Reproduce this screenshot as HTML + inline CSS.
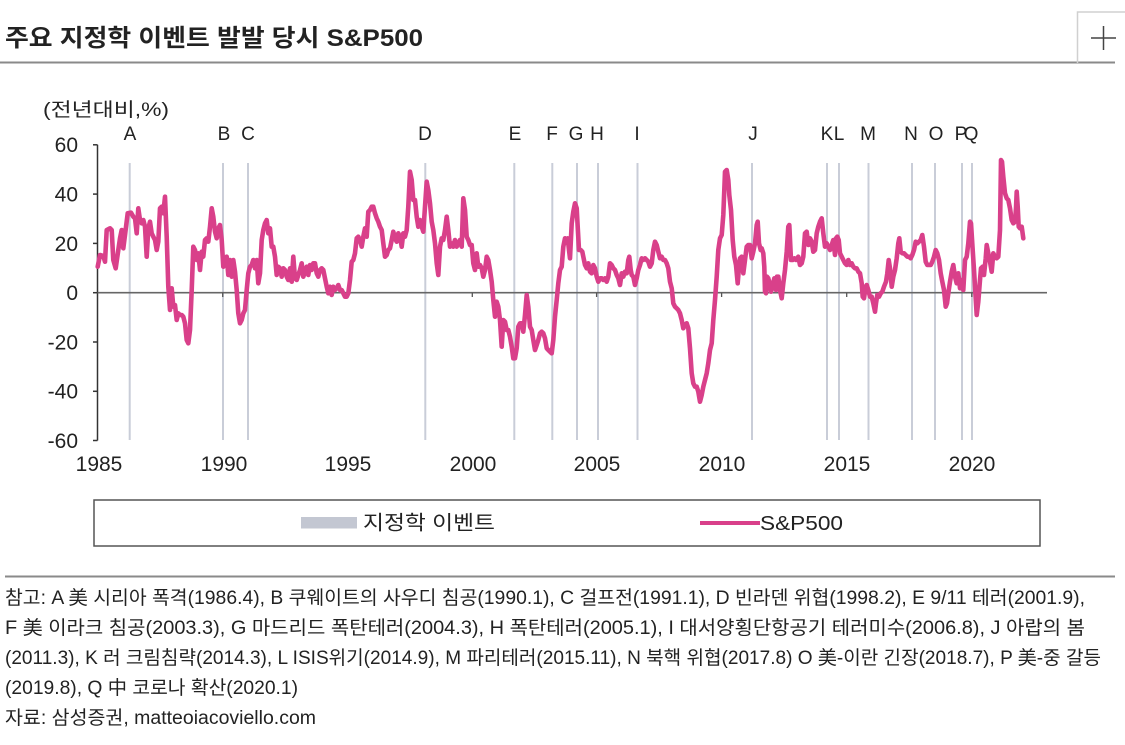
<!DOCTYPE html>
<html><head><meta charset="utf-8">
<style>
html,body{margin:0;padding:0;background:#fff;}
svg{display:block;}
text{font-family:"Liberation Sans","Noto Sans CJK KR",sans-serif;fill:#222;}
</style></head>
<body>
<svg width="1125" height="745" viewBox="0 0 1125 745" xmlns="http://www.w3.org/2000/svg">
<rect width="1125" height="745" fill="#fff"/>
<!-- Title -->
<text x="5" y="46" font-size="24" font-weight="bold" textLength="418" lengthAdjust="spacingAndGlyphs">주요 지정학 이벤트 발발 당시 S&amp;P500</text>
<line x1="0" y1="62.5" x2="1115" y2="62.5" stroke="#8a8a8a" stroke-width="2"/>
<!-- plus box -->
<path d="M1077.5 63 V12 H1125" fill="none" stroke="#d0d0d0" stroke-width="1.5"/>
<line x1="1091" y1="38" x2="1116" y2="38" stroke="#444" stroke-width="1.5"/>
<line x1="1103.5" y1="26" x2="1103.5" y2="50" stroke="#444" stroke-width="1.5"/>

<!-- unit label -->
<text x="43" y="116" font-size="19" textLength="126" lengthAdjust="spacingAndGlyphs">(전년대비,%)</text>

<!-- event lines -->
<g stroke="#c9cdd8" stroke-width="2">
<line x1="129.7" y1="163" x2="129.7" y2="440"/>
<line x1="223" y1="163" x2="223" y2="440"/>
<line x1="248" y1="163" x2="248" y2="440"/>
<line x1="425.3" y1="163" x2="425.3" y2="440"/>
<line x1="514.3" y1="163" x2="514.3" y2="440"/>
<line x1="552.3" y1="163" x2="552.3" y2="440"/>
<line x1="577" y1="163" x2="577" y2="440"/>
<line x1="598" y1="163" x2="598" y2="440"/>
<line x1="637.5" y1="163" x2="637.5" y2="440"/>
<line x1="752" y1="163" x2="752" y2="440"/>
<line x1="827" y1="163" x2="827" y2="440"/>
<line x1="839" y1="163" x2="839" y2="440"/>
<line x1="868.5" y1="163" x2="868.5" y2="440"/>
<line x1="912" y1="163" x2="912" y2="440"/>
<line x1="935" y1="163" x2="935" y2="440"/>
<line x1="962" y1="163" x2="962" y2="440"/>
<line x1="972" y1="163" x2="972" y2="440"/>
</g>

<!-- event labels -->
<g font-size="19" text-anchor="middle">
<text x="130" y="140">A</text>
<text x="224" y="140">B</text>
<text x="248" y="140">C</text>
<text x="425" y="140">D</text>
<text x="515" y="140">E</text>
<text x="552" y="140">F</text>
<text x="576" y="140">G</text>
<text x="597" y="140">H</text>
<text x="637" y="140">I</text>
<text x="753" y="140">J</text>
<text x="827" y="140">K</text>
<text x="839" y="140">L</text>
<text x="868" y="140">M</text>
<text x="911" y="140">N</text>
<text x="936" y="140">O</text>
<text x="961" y="140">P</text>
<text x="971" y="140">Q</text>
</g>

<!-- axes -->
<line x1="97.5" y1="144.8" x2="97.5" y2="440.5" stroke="#333" stroke-width="1.5"/>
<g stroke="#333" stroke-width="1.5">
<line x1="93" y1="144.8" x2="97.5" y2="144.8"/>
<line x1="93" y1="194.1" x2="97.5" y2="194.1"/>
<line x1="93" y1="243.4" x2="97.5" y2="243.4"/>
<line x1="93" y1="292.7" x2="97.5" y2="292.7"/>
<line x1="93" y1="342" x2="97.5" y2="342"/>
<line x1="93" y1="391.3" x2="97.5" y2="391.3"/>
<line x1="93" y1="440.5" x2="97.5" y2="440.5"/>
</g>
<line x1="97.5" y1="292.7" x2="1047" y2="292.7" stroke="#666" stroke-width="1.6"/>
<g stroke="#555" stroke-width="1.3">
<line x1="222.7" y1="292.7" x2="222.7" y2="297"/>
<line x1="347.5" y1="292.7" x2="347.5" y2="297"/>
<line x1="472.3" y1="292.7" x2="472.3" y2="297"/>
<line x1="596.6" y1="292.7" x2="596.6" y2="297"/>
<line x1="721.6" y1="292.7" x2="721.6" y2="297"/>
<line x1="846.7" y1="292.7" x2="846.7" y2="297"/>
<line x1="971.8" y1="292.7" x2="971.8" y2="297"/>
</g>

<!-- y labels -->
<g font-size="21" text-anchor="end">
<text x="78" y="152">60</text>
<text x="78" y="201.5">40</text>
<text x="78" y="250.8">20</text>
<text x="78" y="300">0</text>
<text x="78" y="349.5">-20</text>
<text x="78" y="398.7">-40</text>
<text x="78" y="448">-60</text>
</g>
<!-- x labels -->
<g font-size="21" text-anchor="middle">
<text x="99" y="471">1985</text>
<text x="224" y="471">1990</text>
<text x="348" y="471">1995</text>
<text x="473" y="471">2000</text>
<text x="597" y="471">2005</text>
<text x="722" y="471">2010</text>
<text x="847" y="471">2015</text>
<text x="972" y="471">2020</text>
</g>

<!-- series -->
<polyline fill="none" stroke="#d9408a" stroke-width="4.6" stroke-linejoin="round" stroke-linecap="round" points="
97.7,266.7 100,255 103.3,256 105,261.7 106.7,230 110,228.3 111.7,230 113.3,260 115.7,268.3 118.3,250 120,238.3 121.7,230 123.3,248.3 125,235 127.7,213.3 131,212.7 133.3,216.7 135,218.3 136.7,233.3 138.3,208.3 140,220 141.7,223.3 143.3,220 145,226.7 146.7,256.7 148.3,228.3 150,221.7 151.7,233.3 153.3,236.7 155,240 156.7,250 158.3,241.7 160,208.3 161.7,206.7 163.3,213.3 165,196.7 166.7,236.7 168.3,286.7 170,310 171.7,288.3 173.3,306.7 175,305 176.7,320 178.3,313.3 180,315 181.7,315 183.3,316.7 185,323.3 186.7,340 188.3,343.3 190,330 191.7,290 193.3,246.7 195,250 196.7,260 198.3,253.3 200,270 201.7,251.7 203.3,256.7 205,240 206.7,238.3 208.3,241.7 210,226.7 211.7,208.3 213.3,216.7 215,231.7 216.7,238.3 218.3,228.3 220,225 221.7,240 223.3,266.7 225,260 226.7,256.7 228.3,275 230,260 231.7,276.7 233.3,260 235,271.7 236.7,290 238.3,313.3 240,323.3 241.7,320 243.3,313.3 245,310 246.7,290 248.3,273.3 250,266.7 251.7,265 253.3,260 255,268.3 256.7,260 258.3,283.3 260,273.3 261.7,240 263.3,230 265,223.3 266.7,220 268.3,233.3 270,228.3 271.7,246.7 273.3,246.7 275,256.7 276.7,275 278.3,266.7 280,268.3 281.7,276.7 283.3,268.3 285,270 286.7,276.7 288.3,280 290,268.3 291.7,281.7 293.3,256.7 295,278.3 296.7,280 298.3,275 300,270 301.7,263.3 303.3,276.7 305,271.7 306.7,266.7 308.3,275 310,265 311.7,270 313.3,263.3 315,263.3 316.7,273.3 318.3,276.7 320,270 321.7,268.3 323.3,270 325,278.3 326.7,286.7 328.3,293.3 330,286.7 331.7,295 333.3,286.7 335,290
336.7,288.3 338.3,285 340,290 341.7,290 343.3,293.3 345,296.7 346.7,296.7 348.3,293.3 350,280 351.7,261.7 353.3,260 355,253.3 356.7,238.3 358.3,236.7 360,240 361.7,246.7 363.3,236.7 365,228.3 366.7,236.7 368.3,211.7 370,210 371.7,206.7 373.3,206.7 375,213.3 376.7,218.3 378.3,221.7 380,226.7 381.7,230 383.3,243.3 385,256.7 386.7,255 388.3,250 390,248.3 391.7,240 393.3,231.7 395,238.3 396.7,241.7 398.3,233.3 400,236.7 401.7,246.7 403.3,233.3 405,236.7 406.7,230 408.3,206.7 410,171.7 411.7,180 413.3,200 415,200 416.7,216.7 418.3,226.7 420,220 421.7,226.7 423.3,231.7 425,206.7 426.7,181.7 428.3,190 430,203.3 431.7,221.7 433.3,230 435,243.3 436.7,263.3 438.3,275 440,246.7 441.7,238.3 443.3,240 445,230 446.7,216.7 448.3,230 450,246.7 451.7,243.3 453.3,246.7 455,240 456.7,246.7 458.3,243.3 460,240 461.7,246.7 463.3,198.3 465,210 466.7,236.7 468.3,240 470,245 471.7,245 473.3,263.3 475,270 476.7,253.3 478.3,266.7 480,265 481.7,268.3 483.3,276.7 485,270 486.7,256.7 488.3,260 490,270 491.7,281.7 493.3,300 495,316.7 496.7,301.7 498.3,306.7 500,320 501.7,346.7 503.3,320 505,321.7 506.7,330 508.3,330 510,336.7 511.7,346.7 513.3,358.3 515,358.3 516.7,348.3 518.3,326.7 520,323.3 521.7,323.3 523.3,331.7 525,315 526.7,295 528.3,306.7 530,326.7 531.7,330 533.3,340 535,350 536.7,345 538.3,340 540,333.3 541.7,331.7 543.3,333.3 545,338.3 546.7,348.3 548.3,350 550,351.7 551.7,353.3 553.3,340 555,316.7 556.7,300 558.3,283.3 560,270 561.7,266.7 563.3,246.7 565,238.3
566.7,240 567.7,238.3 569,250 570,258.3 571.7,223.3 573.3,211.7 575,203.3 576.7,208.3 577.7,226.7 579,250 580.7,250 582.3,251.7 583.3,256.7 585,265 586.7,268.3 588.3,263.3 590,271.7 591.7,273.3 593.3,265 595,268.3 596.7,276.7 598.3,281.7 600,278.3 601.7,278.3 603.3,280 605,278.3 606.7,281.7 608.3,276.7 610,263.3 611.7,265 613.3,268.3 615,270 616.7,275 618.3,278.3 620,285 621.7,273.3 623.3,276.7 625,271.7 626.7,273.3 628.3,260 629.3,256.7 630.7,270 631.7,275 633.3,276.7 635,285 636.7,278.3 638.3,270 640,265 641.7,258.3 643.3,260 645,258.3 646.7,260 648.3,261.7 650,266.7 651.7,263.3 653.3,250 655,241.7 656.7,245 658.3,251.7 660,258.3 661.7,256.7 663.3,260 665,260 666.7,263.3 668.3,268.3 670,281.7 671.7,288.3 673.3,303.3 675,306.7 676.7,308.3 678.3,310 680,313.3 681.7,320 683.3,328.3 685,325 686.7,323.3 688.3,328.3 690,348.3 691.7,373.3 693.3,383.3 695,386.7 696.7,386.7 698.3,391.7 700,401.7 701.7,395 703.3,386.7 705,380 706.7,373.3 708.3,363.3 710,350 711.7,343.3 713.3,320 715,300 716.7,276.7 718.3,250 720,238.3 721.7,235 723.3,215 724.3,190 725,171.7 726.7,170 728.3,180 729.3,195 731,210 732.7,240 734.3,256.7 736,265 737.7,283.3 739,266.7 740,258.3 741.7,256.7 743.3,273.3 745,260 746.7,246.7 748.3,245 750,245 751.7,258.3 753.3,251.7 755,243.3 756.7,225 757.7,221.7 759,243.3 760.7,250 761.7,248.3 763.3,253.3 764.3,266.7 765,291.7 766,293.3 767,276.7 768.3,278.3 770,285 771,291.7 772.3,286.7 774.3,278.3 776,290 777,276.7 778.3,276.7 780,290 781.7,298.3 783.3,283.3 785,270 786.7,251.7 788.3,226.7 789.3,225 791,260 792.7,260 794.3,258.3 796,260 798.3,256.7
800,265 801.7,263.3 803.3,256.7 805,233.3 806.7,231.7 808.3,245 810,238.3 811.7,241.7 813.3,251.7 815,250 816.7,233.3 818.3,226.7 820,221.7 821.7,218.3 823.3,233.3 825,246.7 826.7,243.3 828.3,246.7 830,250 831.7,245 833.3,240 835,255 836,238.3 837.3,236.7 838.7,240 840,253.3 841.7,256.7 843.3,260 845,263.3 846.7,265 848.3,260 850,265 851.7,263.3 853.3,266.7 855,268.3 856.7,268.3 858.3,271.7 860,273.3 861.7,283.3 862.7,296.7 864,298.3 865.7,286.7 866.7,285 868.3,290 870,296.7 871.7,296.7 873.3,303.3 875,311.7 876,303.3 877.3,295 879,296.7 880.7,293.3 882.3,291.7 884,286.7 886,281.7 887.3,273.3 888.7,260 890,268.3 891.7,286.7 893.3,276.7 895,270 896.7,258.3 898.3,243.3 899.3,238.3 900.7,251.7 902.3,253.3 904,253.3 905.7,255 907.3,256.7 909,256.7 910.7,258.3 912.3,255 914,250 915.7,241.7 917.3,243.3 919,241.7 920.7,240 922.3,235 924,246.7 925.7,261.7 927.3,265 929,265 930.7,265 932.3,261.7 934,256.7 935.7,250 937.3,253.3 939,260 940.7,273.3 942.3,281.7 944,290 945.7,306.7 947,303.3 948.3,293.3 950,281.7 951.7,271.7 953.3,265 955,276.7 956.7,283.3 958.3,273.3 960,288.3 961.7,280 963.3,290 965,260 966.7,256.7 968.3,243.3 970,221.7 971,223.3 972.7,250 974,270 975.7,298.3 976.7,315 978.3,301.7 980,280 981,268.3 982.7,266.7 984,275 985.7,258.3 986.7,245 988.3,253.3 990,261.7 991.7,271.7 993.3,253.3 995,256.7 996.7,258.3 998.3,256.7 1000,230 1001,160 1002,161.7 1003.3,176.7 1005,193.3 1006.7,198.3 1008.3,200 1010,208.3 1011.7,220 1013.3,223.3 1015,221.7 1016,208.3 1016.7,191.7 1017.7,206.7 1018.7,226.7 1020,228.3 1021.7,226.7 1023.3,238.3"/>

<!-- legend -->
<rect x="94" y="500" width="946" height="46" fill="none" stroke="#555" stroke-width="1.5"/>
<rect x="301" y="517" width="56" height="11.5" fill="#c3c7d2"/>
<text x="363" y="529.5" font-size="20" textLength="132" lengthAdjust="spacingAndGlyphs">지정학 이벤트</text>
<line x1="700" y1="523" x2="760" y2="523" stroke="#d9408a" stroke-width="4"/>
<text x="760" y="530" font-size="20" textLength="83" lengthAdjust="spacingAndGlyphs">S&amp;P500</text>

<!-- footnotes -->
<line x1="5" y1="576.5" x2="1115" y2="576.5" stroke="#8a8a8a" stroke-width="2"/>
<g font-size="19">
<text x="5" y="604" textLength="1080" lengthAdjust="spacingAndGlyphs">참고: A 美 시리아 폭격(1986.4), B 쿠웨이트의 사우디 침공(1990.1), C 걸프전(1991.1), D 빈라덴 위협(1998.2), E 9/11 테러(2001.9),</text>
<text x="5" y="634" textLength="1080" lengthAdjust="spacingAndGlyphs">F 美 이라크 침공(2003.3), G 마드리드 폭탄테러(2004.3), H 폭탄테러(2005.1), I 대서양횡단항공기 테러미수(2006.8), J 아랍의 봄</text>
<text x="5" y="664" textLength="1096" lengthAdjust="spacingAndGlyphs">(2011.3), K 러 크림침략(2014.3), L ISIS위기(2014.9), M 파리테러(2015.11), N 북핵 위협(2017.8) O 美-이란 긴장(2018.7), P 美-중 갈등</text>
<text x="5" y="694" textLength="293" lengthAdjust="spacingAndGlyphs">(2019.8), Q 中 코로나 확산(2020.1)</text>
<text x="5" y="724" textLength="311" lengthAdjust="spacingAndGlyphs">자료: 삼성증권, matteoiacoviello.com</text>
</g>
</svg>
</body></html>
